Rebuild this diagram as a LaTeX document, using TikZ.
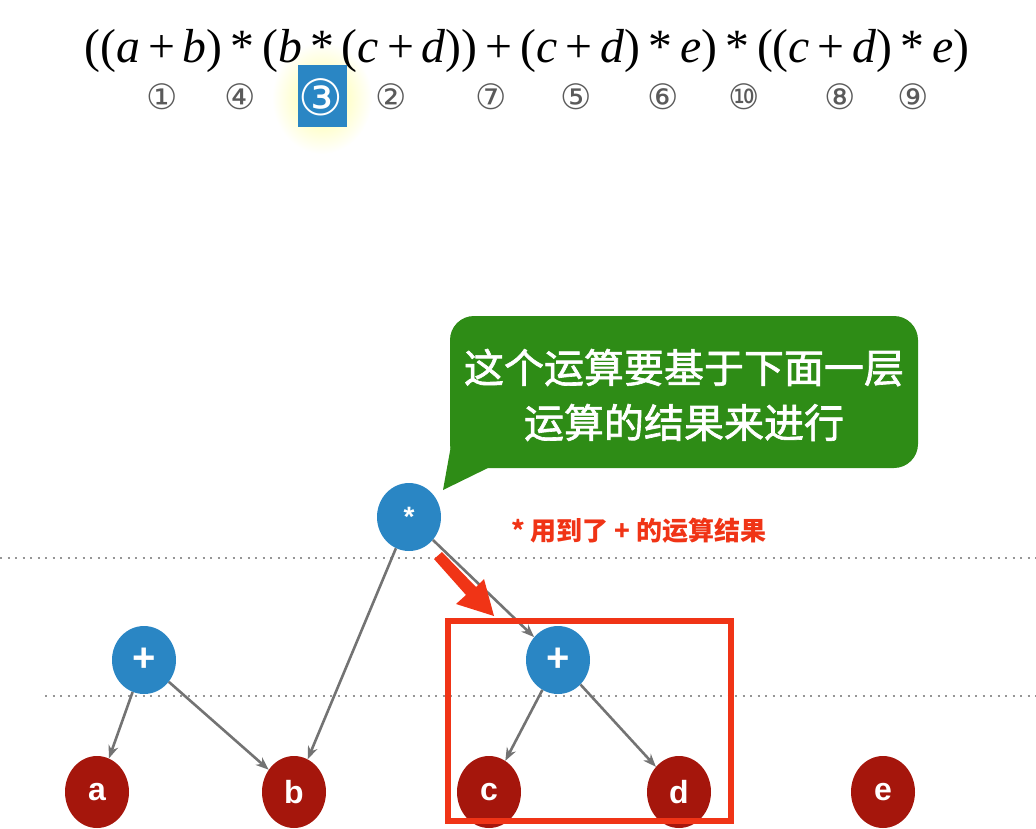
\documentclass[tikz,border=0pt]{standalone}
\usepackage{fontspec}
\usepackage{graphicx}
\setmainfont{Liberation Serif}
\newfontfamily\cjk{Noto Sans CJK SC}
\newfontfamily\cjkm{Noto Sans CJK SC}[FakeBold=1.6]
\newfontfamily\dvs{DejaVu Sans}
\newfontfamily\lsans{Liberation Sans}
\usetikzlibrary{arrows.meta,shapes.geometric}
\definecolor{nodeblue}{RGB}{42,134,196}
\definecolor{leafred}{RGB}{165,22,12}
\definecolor{calloutgreen}{RGB}{46,140,22}
\definecolor{hired}{RGB}{240,52,22}
\definecolor{edgegray}{RGB}{115,115,115}
\definecolor{dotgray}{RGB}{150,150,150}
\definecolor{numgray}{RGB}{90,90,90}
\tikzset{
  opnode/.style={ellipse,fill=nodeblue,minimum width=64pt,minimum height=68pt,inner sep=0pt,text=white,font=\lsans\bfseries\fontsize{40}{40}\selectfont},
  leafnode/.style={ellipse,fill=leafred,minimum width=64pt,minimum height=72pt,inner sep=0pt,text=white,font=\lsans\bfseries\fontsize{32}{32}\selectfont},
  edge/.style={draw=edgegray,line width=2.6pt,-{Stealth[length=13pt,width=10pt]}},
  dotline/.style={draw=dotgray,line width=2.2pt,dash pattern=on 2pt off 5.5pt},
  circnum/.style={font=\dvs\fontsize{35}{35}\selectfont,text=numgray,inner sep=0pt}
}
\newcommand{\mystar}{\,*\,}
\begin{document}
\begin{tikzpicture}[x=1pt,y=-1pt]
\useasboundingbox (0,0) rectangle (1036,828);
% formula
\shade[inner color=yellow!40,outer color=white] (322,98) ellipse (50 and 56);
\node[inner sep=0pt] (formula) at (527,51)
  {\resizebox{885pt}{!}{((\textit{a}\,+\,\textit{b})\mystar(\textit{b}\mystar(\textit{c}\,+\,\textit{d}))\,+\,(\textit{c}\,+\,\textit{d})\mystar\textit{e})\mystar((\textit{c}\,+\,\textit{d})\mystar\textit{e})}};
\node[circnum] (n1) at (162,97) {①};
\node[circnum] (n4) at (240,97) {④};
\node[fill=nodeblue,minimum width=49pt,minimum height=62pt,inner sep=0pt] (hl) at (322,96) {};
\node[circnum,text=white,font=\dvs\fontsize{50}{50}\selectfont] (n3) at (321,97) {③};
\node[circnum] (n2) at (391,97) {②};
\node[circnum] (n7) at (491,97) {⑦};
\node[circnum] (n5) at (576,97) {⑤};
\node[circnum] (n6) at (663,97) {⑥};
\node[circnum] (n10) at (744,97) {⑩};
\node[circnum] (n8) at (840,97) {⑧};
\node[circnum] (n9) at (913,97) {⑨};
% dotted levels
\coordinate (l1a) at (0,558); \coordinate (l1b) at (1036,558);
\coordinate (l2a) at (45,696); \coordinate (l2b) at (1036,696);
\draw[dotline] (l1a) -- (l1b);
\draw[dotline] (l2a) -- (l2b);
% callout
\fill[calloutgreen,rounded corners=24pt] (450,316) rectangle (918,468);
\fill[calloutgreen] (452,440) -- (443,490) -- (492,466) -- cycle;
\node[text=white,align=center,font=\cjkm\fontsize{40}{55}\selectfont] (callout) at (684,395)
  {这个运算要基于下面一层\\运算的结果来进行};
% nodes
\node[opnode,font=\lsans\bfseries\fontsize{28}{28}\selectfont] (star) at (409,517) {*};
\node[opnode] (plusL) at (144,660) {+};
\node[opnode] (plusR) at (558,660) {+};
\node[leafnode] (a) at (97,792) {a};
\node[leafnode] (b) at (294,792) {b};
\node[leafnode] (c) at (489,792) {c};
\node[leafnode] (d) at (679,792) {d};
\node[leafnode] (e) at (883,792) {e};
% edges
\draw[edge] (star) -- (b);
\draw[edge] (star) -- (plusR);
\draw[edge] (plusL) -- (a);
\draw[edge] (plusL) -- (b);
\draw[edge] (plusR) -- (c);
\draw[edge] (plusR) -- (d);
% highlight box
\draw[hired,line width=6pt] (448,621) rectangle (731,821);
% red fat arrow
\fill[hired] (434,559) -- (466,595) -- (456,604) -- (494,616) -- (484,579) -- (476,587) -- (442,552) -- cycle;
% red annotation
\node[text=hired,font=\cjk\bfseries\fontsize{26}{26}\selectfont] (note) at (639,531) {* 用到了 + 的运算结果};
\end{tikzpicture}
\end{document}
